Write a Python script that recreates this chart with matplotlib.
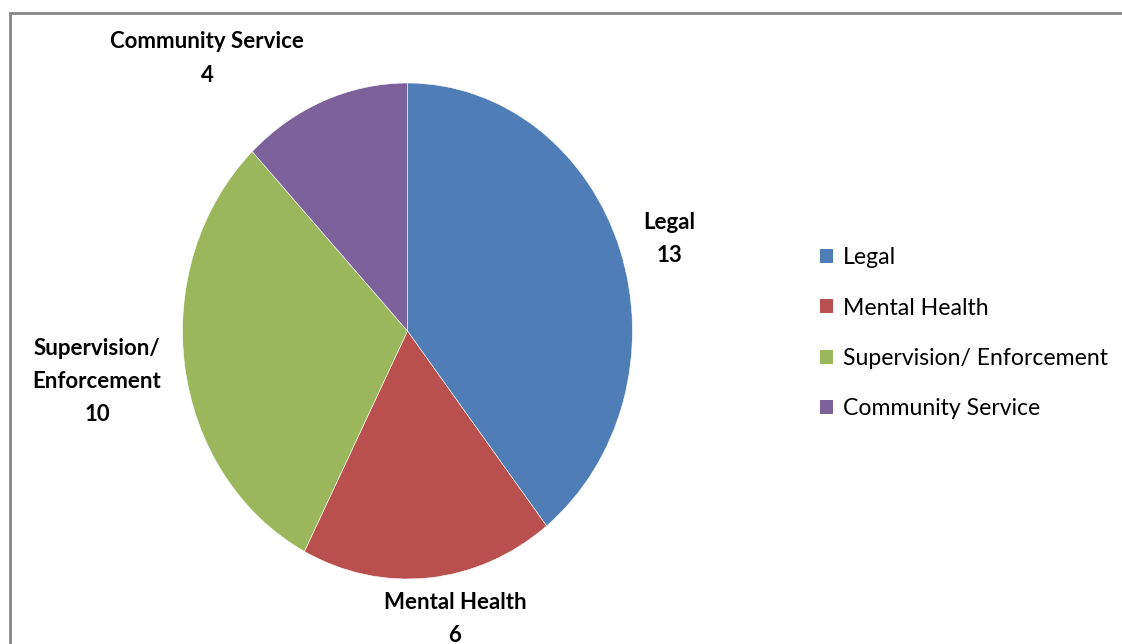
import matplotlib
matplotlib.use("Agg")
import matplotlib.pyplot as plt
from matplotlib.patches import Rectangle, Patch

categories = ["Legal", "Mental Health", "Supervision/ Enforcement", "Community Service"]
values = [13, 6, 10, 4]
label_lines = ["Legal", "Mental Health", "Supervision/\nEnforcement", "Community Service"]
colors = ["#4F7EB7", "#BA504D", "#9BB75B", "#7C619B"]

W, H = 1122, 644
fig = plt.figure(figsize=(W / 100, H / 100), dpi=100)
fig.patch.set_facecolor("white")

# outer chart border (runs off the right and bottom edges)
fig.add_artist(Rectangle((10 / W, -0.1), 1.2, 1 - 12.5 / H + 0.1,
                         transform=fig.transFigure, fill=False,
                         edgecolor="#878787", linewidth=2))

# pie area (slightly taller than wide)
cx, cy, rx, ry = 407.5, 331, 225, 248
ax = fig.add_axes([(cx - rx) / W, (H - cy - ry) / H, 2 * rx / W, 2 * ry / H])
ax.pie(values, colors=colors, startangle=90, counterclock=False,
       wedgeprops=dict(edgecolor="white", linewidth=0.4))
ax.set_aspect("auto")
ax.set_xlim(-1, 1)
ax.set_ylim(-1, 1)
ax.axis("off")

font = "Lato"

# data labels: category name plus value
label_pos = [(1.162, 0.371), (0.211, -1.161), (-1.38, -0.204), (-0.891, 1.099)]
for (x, y), name, v in zip(label_pos, label_lines, values):
    ax.text(x, y, f"{name}\n{v}", ha="center", va="center", fontsize=16,
            fontweight="bold", family=font, linespacing=1.72, clip_on=False)

handles = [Patch(facecolor=c, edgecolor="none") for c in colors]
fig.legend(handles, categories, loc="upper left",
           bbox_to_anchor=(811 / W, 1 - 238 / H), frameon=False,
           prop=dict(family=font, size=16.6), handlelength=0.55, handleheight=0.55,
           handletextpad=0.45, labelspacing=1.27, borderaxespad=0)

fig.savefig("out.png", dpi=100, facecolor="white")
